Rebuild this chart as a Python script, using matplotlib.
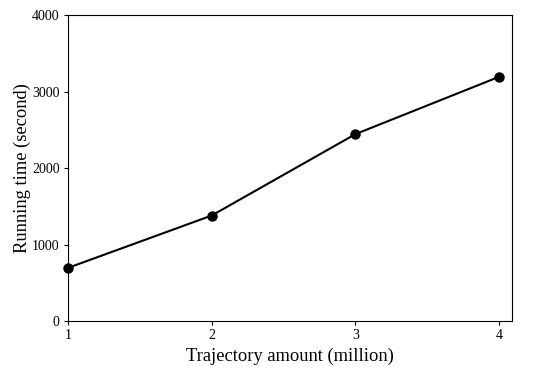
import matplotlib
matplotlib.use("Agg")
import matplotlib.pyplot as plt

trajectory_million = [1, 2, 3, 4]
running_time_s = [695, 1380, 2445, 3195]
y_ticks = [0, 1000, 2000, 3000, 4000]
x_ticks = [1, 2, 3, 4]

plt.rcParams['font.family'] = ['Liberation Serif', 'DejaVu Serif']

fig = plt.figure(figsize=(5.5, 3.73), dpi=100)
ax = fig.add_axes([68/550, 52/373, (512-68)/550, (321-15.3)/373])
ax.plot(trajectory_million, running_time_s, color='black', linewidth=1.5,
        marker='o', markersize=6.5, clip_on=False, zorder=3)
ax.set_xlim(1, 4.09)
ax.set_ylim(0, 4000)
ax.set_xticks(x_ticks)
ax.set_yticks(y_ticks)
ax.tick_params(labelsize=10, length=3, width=0.8, direction='out', pad=3)
ax.set_xlabel('Trajectory amount (million)', fontsize=13.3, labelpad=4)
ax.set_ylabel('Running time (second)', fontsize=13.3, labelpad=1)
for s in ax.spines.values():
    s.set_linewidth(0.8)
fig.savefig('out.png', dpi=100)
